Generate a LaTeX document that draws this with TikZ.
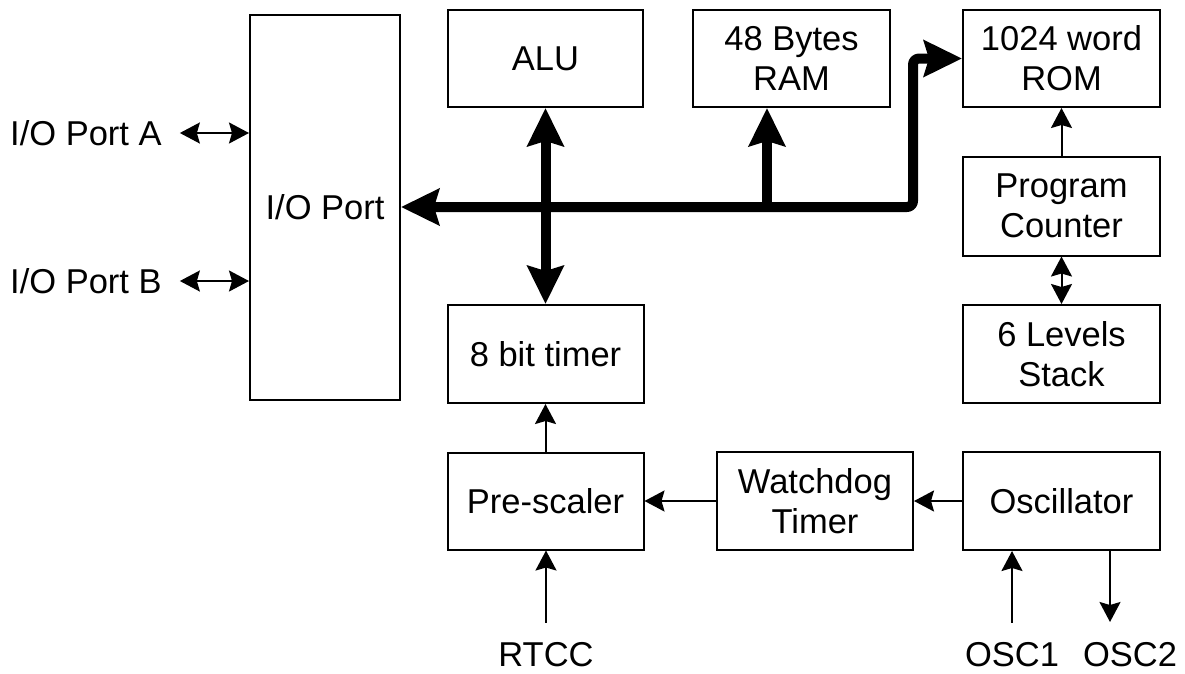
\documentclass[tikz,border=0pt]{standalone}
\usepackage{fontspec}
\setmainfont{Liberation Sans}
\usetikzlibrary{arrows.meta}
\begin{document}
\begin{tikzpicture}[x=1pt,y=-1pt,
  box/.style={draw,line width=2pt,inner sep=0pt,align=center,font=\fontsize{34.5}{40}\selectfont},
  lbl/.style={inner sep=0pt,font=\fontsize{34.5}{40}\selectfont},
  thin/.style={line width=2pt,arrows={-Stealth[length=20pt,width=21pt,inset=3pt]}},
  thinboth/.style={line width=2pt,arrows={Stealth[length=20pt,width=21pt,inset=3pt]-Stealth[length=20pt,width=21pt,inset=3pt]}},
  bus/.style={line width=10pt,line join=round,arrows={Stealth[length=38pt,width=36pt,inset=5pt]-Stealth[length=38pt,width=36pt,inset=5pt]}},
  busone/.style={line width=10pt,arrows={-Stealth[length=38pt,width=36pt,inset=5pt]}}]
\useasboundingbox (0,0) rectangle (1185,673);

\node[box,minimum width=150pt,minimum height=385pt] (io) at (325,207.5) {I/O Port};
\node[box,minimum width=195pt,minimum height=97pt] (alu) at (545.5,58.5) {ALU};
\node[box,minimum width=197pt,minimum height=97pt] (ram) at (791.5,58.5) {48 Bytes\\RAM};
\node[box,minimum width=197pt,minimum height=97pt] (rom) at (1061.5,58.5) {1024 word\\ROM};
\node[box,minimum width=197pt,minimum height=99pt] (pc) at (1061.5,206) {Program\\Counter};
\node[box,minimum width=197pt,minimum height=98pt] (stack) at (1061.5,354) {6 Levels\\Stack};
\node[box,minimum width=197pt,minimum height=98pt] (osc) at (1061.5,501) {Oscillator};
\node[box,minimum width=196pt,minimum height=98pt] (wdt) at (815,501) {Watchdog\\Timer};
\node[box,minimum width=196pt,minimum height=97pt] (pre) at (545.5,501) {Pre-scaler};
\node[box,minimum width=196pt,minimum height=98pt] (timer) at (545.5,354) {8 bit timer};

\node[lbl,anchor=west] (porta) at (10,133) {I/O Port A};
\node[lbl,anchor=west] (portb) at (10,281) {I/O Port B};
\node[lbl] (rtcc) at (546,655) {RTCC};
\node[lbl] (osc1) at (1012,655) {OSC1};
\node[lbl] (osc2) at (1130,655) {OSC2};

\coordinate (bend) at (913,207);
\coordinate (top) at (913,58.5);
\coordinate (ramtap) at (767,207);
\coordinate (osc2end) at (1110,622);

% bus
\draw[bus,rounded corners=6pt] (io.east |- bend) -- (bend) -- (top) -- (rom.west);
\draw[bus] (alu.south) -- (timer.north);
\draw[busone] (ramtap) -- (ramtap |- ram.south);

% thin connectors
\draw[thinboth,shorten <=18pt] (porta.east) -- (porta -| io.west);
\draw[thinboth,shorten <=18pt] (portb.east) -- (portb -| io.west);
\draw[thin] (pc.north) -- (rom.south);
\draw[thinboth] (pc.south) -- (stack.north);
\draw[thin] (pre.north) -- (timer.south);
\draw[thin] (wdt.west) -- (pre.east);
\draw[thin] (osc.west) -- (wdt.east);
\draw[thin,shorten <=20pt] (rtcc.north) -- (rtcc.north |- pre.south);
\draw[thin,shorten <=20pt] (osc1.north) -- (osc1.north |- osc.south);
\draw[thin] (osc.south -| osc2end) -- (osc2end);
\end{tikzpicture}
\end{document}
